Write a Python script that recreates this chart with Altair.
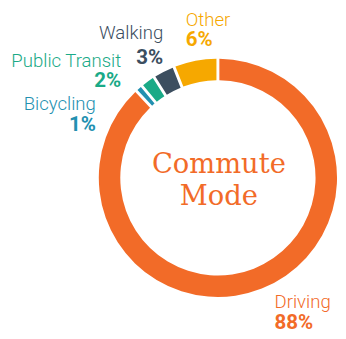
import math
import altair as alt
import pandas as pd

# ---- data ----
modes = ["Driving", "Bicycling", "Public Transit", "Walking", "Other"]
shares = [88, 1, 2, 3, 6]
pct_labels = ["88%", "1%", "2%", "3%", "6%"]
colors = ["#F26B28", "#2290B0", "#1AAA87", "#3C4E5F", "#F6A800"]
title_lines = ["Commute", "Mode"]

df = pd.DataFrame({"mode": modes, "share": shares, "rank": list(range(len(modes)))})

# ---- layout ----
W, H = 338, 328
CX, CY = 215, 170
# label anchor: x, name baseline y, pct baseline y, align
label_layout = {
    "Driving": (273, 303, 325, "left"),
    "Bicycling": (90, 100, 122, "right"),
    "Public Transit": (116, 56, 77, "right"),
    "Walking": (159, 28, 53, "right"),
    "Other": (182, 14, 35, "left"),
}

ring = alt.Chart(df).mark_arc(outerRadius=122, innerRadius=100, padAngle=0.019).encode(
    theta=alt.Theta("share:Q", stack=True, scale=alt.Scale(range=[0, 2 * math.pi])),
    order=alt.Order("rank:Q"),
    color=alt.Color("mode:N", scale=alt.Scale(domain=modes, range=colors), legend=None),
    x=alt.value(CX),
    y=alt.value(CY),
)

layers = [ring]
for m, p, c in zip(modes, pct_labels, colors):
    lx, ny, py, al = label_layout[m]
    name = alt.Chart(df).transform_filter(alt.datum.mode == m).mark_text(
        font="Roboto", fontSize=19, fontWeight=300, align=al, baseline="alphabetic", color=c
    ).encode(x=alt.value(lx), y=alt.value(ny), text="mode:N")
    pct = alt.Chart(df).transform_filter(alt.datum.mode == m).mark_text(
        font="Roboto", fontSize=21, fontWeight="bold", align=al, baseline="alphabetic", color=c, text=p
    ).encode(x=alt.value(lx), y=alt.value(py))
    layers += [name, pct]

for i, t in enumerate(title_lines):
    layers.append(
        alt.Chart(df).transform_filter(alt.datum.rank == 0).mark_text(
            font="DejaVu Serif", fontSize=28, align="center", baseline="alphabetic",
            color="#F26B28", text=t
        ).encode(x=alt.value(216), y=alt.value(165 + 33 * i))
    )

chart = alt.layer(*layers).properties(
    width=W, height=H, padding=0, autosize=alt.AutoSizeParams(type="none")
).configure_view(stroke=None)

chart.save("out.html", embed_options={"renderer": "svg", "actions": False})
